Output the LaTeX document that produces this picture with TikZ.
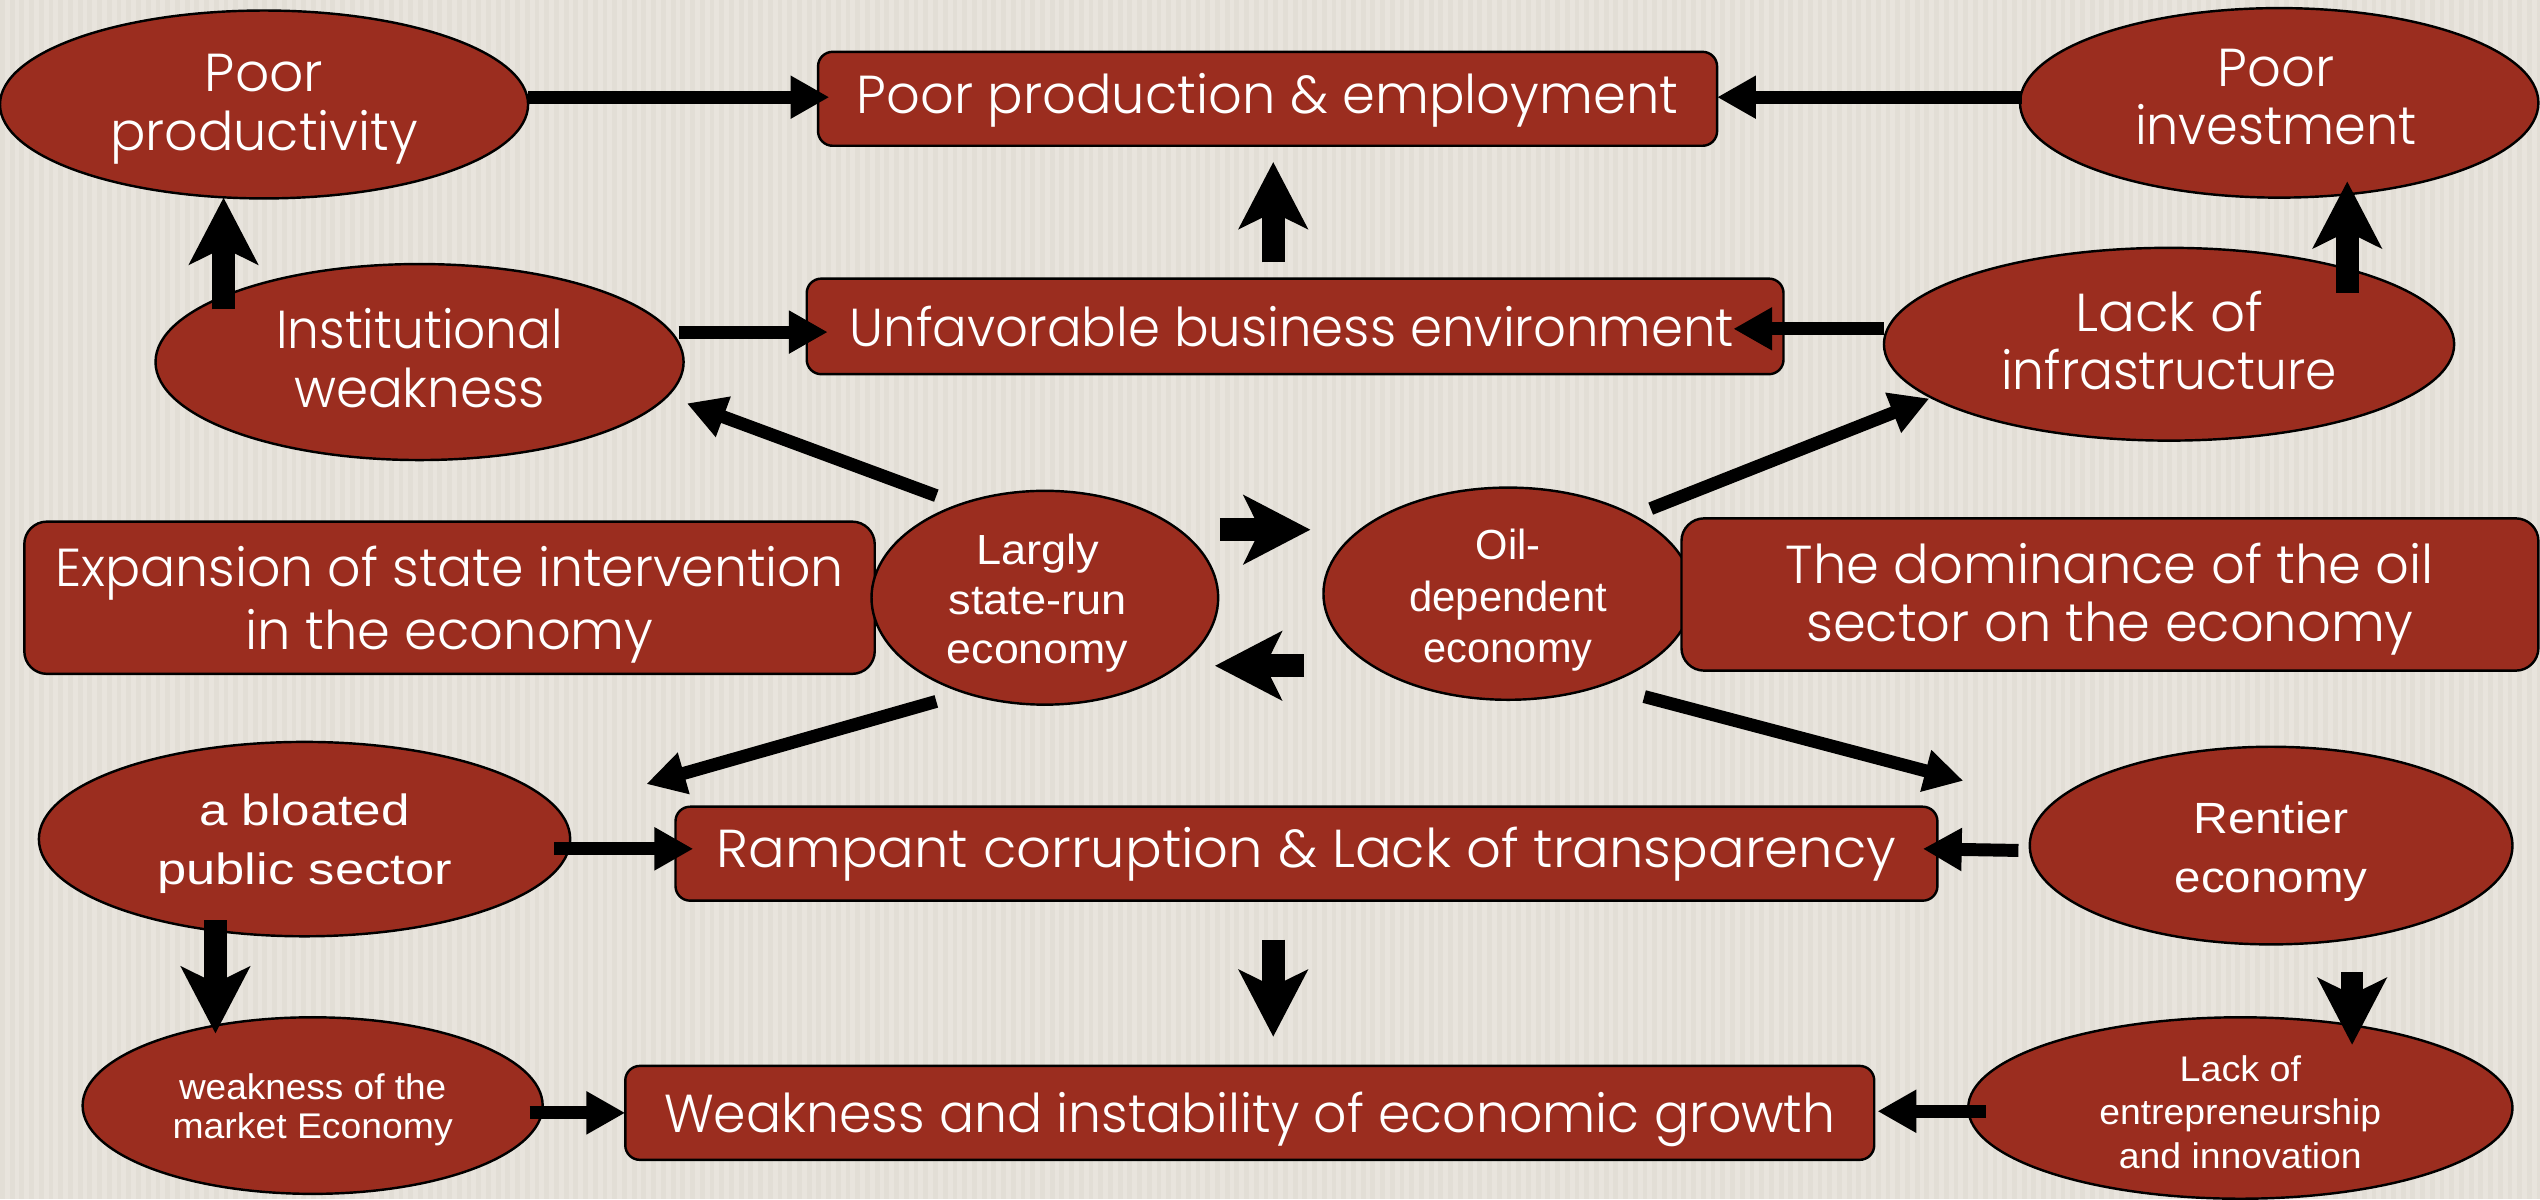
\documentclass[tikz,border=0pt]{standalone}
\usepackage{fontspec}
\usepackage{graphicx}
\usetikzlibrary{shapes.geometric,arrows.meta,calc}
\setmainfont{Poppins}[UprightFont=* Light]
\newfontfamily\arialf{Liberation Sans}
\newcommand{\fit}[2]{\resizebox{#1pt}{\height}{#2}}
% first line of a node, with its text moved down by #1 pt
\newcommand{\fitd}[3]{\sbox0{#3}\rule{0pt}{\dimexpr\ht0+#1pt*2\relax}\fit{#2}{#3}}
% last line of a node, with its text moved up by #1 pt
\newcommand{\fitu}[3]{\sbox0{#3}\rule[-\dimexpr\dp0+#1pt*2\relax]{0pt}{1pt}\fit{#2}{#3}}
\definecolor{brick}{HTML}{9B2D1F}
\definecolor{paper}{HTML}{E8E4DD}
\definecolor{paperline}{HTML}{E2DED6}
\tikzset{
  ell/.style={ellipse,draw=black,line width=1.5pt,fill=brick,text=white,inner sep=0pt,align=center},
  box/.style={rectangle,rounded corners=9pt,draw=black,line width=1.5pt,fill=brick,text=white,inner sep=0pt,align=center},
  thinarrow/.style={line width=8pt,draw=black,-{Triangle[length=24pt,width=25pt]}},
  thickarrow/.style={line width=14pt,draw=black,-{Stealth[length=41pt,width=42pt,inset=10pt]}},
  large/.style={font=\fontsize{33}{36}\selectfont},
  largeb/.style={font=\fontsize{33}{39}\selectfont},
  arialb/.style={font=\arialf\fontsize{27}{36.5}\selectfont},
  arialc/.style={font=\arialf\fontsize{26}{30.5}\selectfont},
  arialo/.style={font=\arialf\fontsize{26}{32}\selectfont},
  ariald/.style={font=\arialf\fontsize{22}{27}\selectfont},
  ariale/.style={font=\arialf\fontsize{22}{24.5}\selectfont},
}
\begin{document}
\begin{tikzpicture}[x=1pt,y=-1pt]
\useasboundingbox (0,0) rectangle (1568,740.2);
\fill[paper] (0,0) rectangle (1568,740.2);
\foreach \x in {0,6,...,1566} \fill[paperline] (\x,0) rectangle +(3,740.2);
% ellipses
\node[ell,large,minimum width=326pt,minimum height=116pt] (e1) at (163,64.5) {\fitd{3}{73}{Poor}\\\fit{190}{productivity}};
\node[ell,large,minimum width=326pt,minimum height=121pt] (e2) at (259,223.5) {\fit{177}{Institutional}\\\fitu{2.5}{155}{weakness}};
\node[ell,large,minimum width=320pt,minimum height=117pt] (e3) at (1407,63.5) {\fit{72}{Poor}\rule{4pt}{0pt}\\\fitu{3.5}{174}{investment}\rule{4pt}{0pt}};
\node[ell,large,minimum width=352pt,minimum height=119pt] (e4) at (1339,212.5) {\fit{116}{Lack of}\\\fitu{2.5}{207}{infrastructure}};
\node[box,largeb,rounded corners=14pt,minimum width=525pt,minimum height=94pt] (r3) at (277.5,369) {\fitd{4.5}{487}{Expansion of state intervention}\\\fit{252}{in the economy}};
\node[ell,arialc,minimum width=214pt,minimum height=132pt] (e5) at (645,369) {\fitd{3.5}{76}{Largly}\rule{9pt}{0pt}\\\fit{110}{state-run}\rule{9pt}{0pt}\\\fit{112}{economy}\rule{9pt}{0pt}};
\node[ell,arialo,inner sep=-3pt,minimum width=228pt,minimum height=131pt] (e6) at (931,366.5) {\fitd{4}{40}{Oil-}\\\fit{122}{dependent}\\\fit{104}{economy}};
\node[box,large,rounded corners=14pt,minimum width=529pt,minimum height=94pt] (r4) at (1302.5,367) {\fitd{3}{400}{The dominance of the oil}\\\fit{375}{sector on the economy}};
\node[ell,arialb,minimum width=328pt,minimum height=120pt] (e7) at (188,518) {\fitd{3}{130}{a bloated}\\\fit{182}{public sector}};
\node[ell,arialb,minimum width=298pt,minimum height=122pt] (e8) at (1402,522) {\fitd{3.5}{96}{Rentier}\\\fit{119}{economy}};
\node[ell,ariale,minimum width=284pt,minimum height=109pt] (e9) at (193,682.5) {\fitd{2.5}{165}{weakness of the}\\\fit{173}{market Economy}};
\node[ell,ariald,minimum width=336pt,minimum height=112pt] (e10) at (1383,684) {\fitd{2.5}{75}{Lack of}\\\fit{174}{entrepreneurship}\\\fit{150}{and innovation}};
% boxes
\node[box,large,minimum width=555pt,minimum height=58pt] (r1) at (782.5,61) {\fitd{1}{507}{Poor production \& employment}};
\node[box,large,minimum width=603pt,minimum height=59pt] (r2) at (799.5,201.5) {\fit{546}{Unfavorable business environment}\rule{4pt}{0pt}};
\node[box,large,minimum width=779pt,minimum height=58pt] (r5) at (806.5,527) {\fit{728}{Rampant corruption \& Lack of transparency}};
\node[box,large,minimum width=771pt,minimum height=58pt] (r6) at (771.5,687) {\fitd{4}{723}{Weakness and instability of economic growth}};
% connectors
\draw[thinarrow] ($(e1)+(163,-4.5)$) -- ($(r1)+(-270.5,-1)$);
\draw[thinarrow] ($(e3)+(-159,-3.5)$) -- ($(r1)+(277.5,-1)$);
\draw[thickarrow] ($(e2)+(-121,-32.5)$) -- ($(e1)+(-25,57.5)$);
\draw[thinarrow] ($(e2)+(160,-18.5)$) -- ($(r2)+(-288.5,3.5)$);
\draw[thickarrow] ($(r2)+(-13.5,-39.5)$) -- ($(r1)+(3.5,39)$);
\draw[thinarrow] ($(e4)+(-176,-9.5)$) -- ($(r2)+(270.5,1.5)$);
\draw[thickarrow] ($(e4)+(110,-31.5)$) -- ($(e3)+(42,48.5)$);
\draw[thinarrow] ($(e5)+(-67,-63)$) -- ($(e2)+(165,25.5)$);
\draw[thinarrow] ($(e6)+(88,-52.5)$) -- ($(e4)+(-148,33.5)$);
\draw[thickarrow] ($(e5)+(108,-42)$) -- ($(e6)+(-122,-39.5)$);
\draw[thickarrow] ($(e6)+(-126,44.5)$) -- ($(e5)+(105,42)$);
\draw[thinarrow] ($(e5)+(-67,64)$) -- ($(e7)+(211,-34)$);
\draw[thinarrow] ($(e6)+(84,63.5)$) -- ($(e8)+(-190,-40)$);
\draw[thinarrow] ($(e7)+(154,6)$) -- ($(r5)+(-378.5,-3)$);
\draw[thinarrow] ($(e8)+(-156,3)$) -- ($(r5)+(380.5,-3)$);
\draw[thickarrow] ($(e7)+(-55,50)$) -- ($(e9)+(-60,-44.5)$);
\draw[thickarrow] ($(r5)+(-20.5,53)$) -- ($(r6)+(14.5,-47)$);
\draw[thickarrow] ($(e8)+(50,78)$) -- ($(e10)+(69,-39)$);
\draw[thinarrow] ($(e9)+(134,4.5)$) -- ($(r6)+(-385.5,0)$);
\draw[thinarrow] ($(e10)+(-157,2)$) -- ($(r6)+(387.5,-1)$);
\end{tikzpicture}
\end{document}
